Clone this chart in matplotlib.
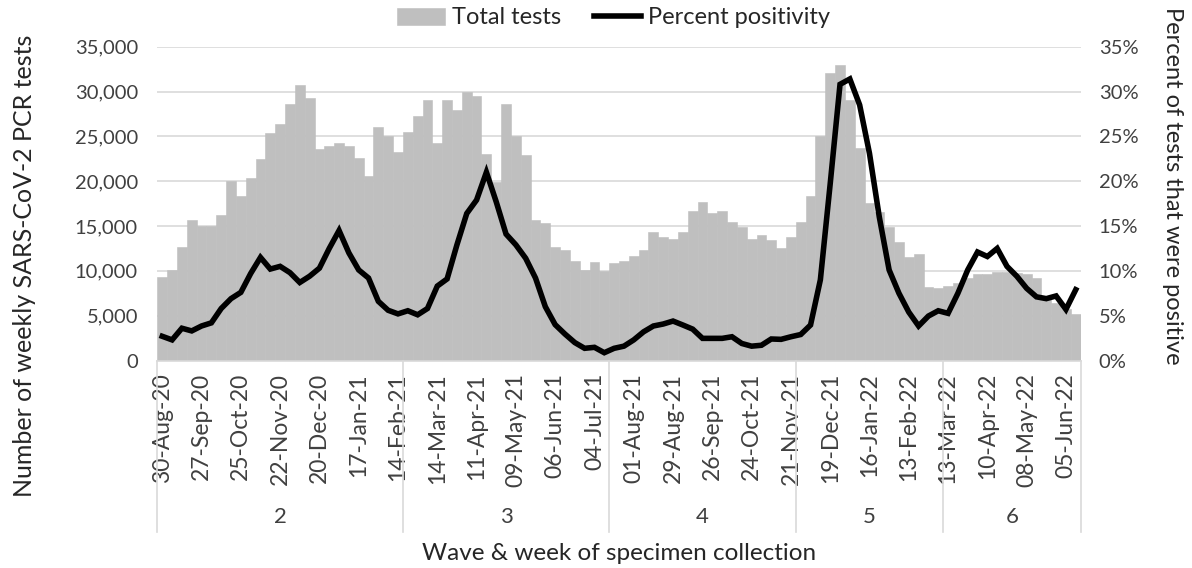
import matplotlib
matplotlib.use("Agg")
import matplotlib.pyplot as plt
from matplotlib.ticker import FuncFormatter
import numpy as np

plt.rcParams['font.family'] = ['Lato', 'DejaVu Sans']

# weekly totals, 30-Aug-20 .. 12-Jun-22 (94 weeks)
total_tests = [
    9300, 10100, 12700, 15700, 15000, 15000, 16200, 20000, 18400, 20300,
    22500, 25400, 26400, 28600, 30700, 29300, 23600, 23900, 24300, 23900,
    22600, 20600, 26000, 25000, 23200, 25500, 27300, 29100, 24300, 29000,
    27900, 30000, 29500, 23000, 19900, 28600, 25000, 22900, 15700, 15300,
    12700, 12300, 11100, 10100, 11000, 10000, 10900, 11100, 11650, 12300,
    14300, 13800, 13500, 14300, 16700, 17700, 16500, 16700, 15400, 14850,
    13500, 14000, 13400, 12600, 13800, 15400, 18300, 25000, 32100, 33000,
    29000, 23700, 17600, 16600, 14900, 13200, 11600, 11900, 8200, 8050,
    8300, 8700, 9200, 9700, 9600, 9900, 9900, 9800, 9700, 9200,
    7100, 6400, 5700, 5200,
]

pct_positive = [
    2.7, 2.3, 3.6, 3.3, 3.85, 4.2, 5.8, 6.9, 7.6, 9.7,
    11.5, 10.2, 10.5, 9.8, 8.7, 9.4, 10.3, 12.5, 14.5, 12.0,
    10.1, 9.2, 6.6, 5.6, 5.2, 5.55, 5.1, 5.8, 8.3, 9.1,
    12.9, 16.4, 17.9, 21.0, 17.7, 14.1, 12.9, 11.4, 9.2, 6.0,
    4.0, 2.95, 2.0, 1.36, 1.47, 0.87, 1.36, 1.6, 2.3, 3.2,
    3.85, 4.07, 4.4, 3.96, 3.5, 2.47, 2.47, 2.47, 2.65, 1.9,
    1.6, 1.7, 2.4, 2.36, 2.65, 2.9, 3.96, 9.0, 19.7, 30.8,
    31.4, 28.5, 23.1, 16.0, 10.1, 7.5, 5.4, 3.85, 4.96, 5.55,
    5.26, 7.5, 10.1, 12.1, 11.6, 12.5, 10.5, 9.4, 8.05, 7.1,
    6.9, 7.2, 5.7, 7.9,
]

date_labels = [
    '30-Aug-20', '27-Sep-20', '25-Oct-20', '22-Nov-20', '20-Dec-20', '17-Jan-21',
    '14-Feb-21', '14-Mar-21', '11-Apr-21', '09-May-21', '06-Jun-21', '04-Jul-21',
    '01-Aug-21', '29-Aug-21', '26-Sep-21', '24-Oct-21', '21-Nov-21', '19-Dec-21',
    '16-Jan-22', '13-Feb-22', '13-Mar-22', '10-Apr-22', '08-May-22', '05-Jun-22',
]

waves = ['2', '3', '4', '5', '6']
wave_weeks = [25, 21, 19, 15, 14]

n = len(total_tests)
x = np.arange(n)
bar_col = '#bfbfbf'
grid_col = '#d9d9d9'
tick_col = '#404040'
title_col = '#262626'

fig = plt.figure(figsize=(11.92, 5.68), dpi=100)
ax = fig.add_axes([0.132, 0.3653, 0.7746, 0.5525])
ax.bar(x, total_tests, width=1.0, color=bar_col, edgecolor=bar_col,
       linewidth=0.4, label='Total tests')
ax.set_xlim(-0.5, n - 0.5)
ax.set_ylim(0, 35000)
ax.set_yticks(np.arange(0, 35001, 5000))
ax.yaxis.set_major_formatter(FuncFormatter(lambda v, p: f'{int(v):,}'))
ax.set_axisbelow(True)
ax.grid(axis='y', color=grid_col, linewidth=1.2)
for s in ['top', 'left', 'right']:
    ax.spines[s].set_visible(False)
ax.spines['bottom'].set_color(grid_col)
ax.spines['bottom'].set_linewidth(1.2)

ax.set_xticks(x[::4])
ax.set_xticklabels(date_labels, rotation=90)
ax.tick_params(axis='x', length=0, pad=9, labelsize=16.5, labelcolor=tick_col)
ax.tick_params(axis='y', length=0, pad=14, labelsize=14.5, labelcolor=tick_col)

ax2 = ax.twinx()
ax2.plot(x, pct_positive, color='black', linewidth=4, solid_joinstyle='miter',
         label='Percent positivity')
ax2.set_ylim(0, 35)
ax2.set_yticks(np.arange(0, 36, 5))
ax2.yaxis.set_major_formatter(FuncFormatter(lambda v, p: f'{int(v)}%'))
ax2.tick_params(axis='y', length=0, pad=13, labelsize=14.5, labelcolor=tick_col)
for s in ax2.spines.values():
    s.set_visible(False)

# multi-level category axis: wave groups
trans = ax.get_xaxis_transform()
edges = np.concatenate([[0], np.cumsum(wave_weeks)]) - 0.5
for e in edges:
    ax.plot([e, e], [0, -0.5465], transform=trans, color=grid_col,
            linewidth=1.2, clip_on=False)
for w, a, b in zip(waves, edges[:-1], edges[1:]):
    ax.text((a + b) / 2, -0.4987, w, transform=trans, ha='center', va='center',
            fontsize=16, color=tick_col)

ax.text(0.5, -0.6135, 'Wave & week of specimen collection', transform=ax.transAxes,
        ha='center', va='center', fontsize=17.5, color=title_col)
fig.text(25 / 1192, 1 - 266 / 568, 'Number of weekly SARS-CoV-2 PCR tests',
         rotation=90, ha='center', va='center', fontsize=18, color=title_col)
fig.text(1172 / 1192, 1 - 186 / 568, 'Percent of tests that were positive',
         rotation=270, ha='center', va='center', fontsize=17, color=title_col)

h1, l1 = ax.get_legend_handles_labels()
h2, l2 = ax2.get_legend_handles_labels()
fig.legend(h1 + h2, l1 + l2, loc='center', bbox_to_anchor=(0.515, 1 - 18 / 568),
           ncol=2, frameon=False, fontsize=17, handlelength=2.0,
           columnspacing=1.4, handletextpad=0.3, labelcolor=title_col)

fig.savefig('out.png', dpi=100)
